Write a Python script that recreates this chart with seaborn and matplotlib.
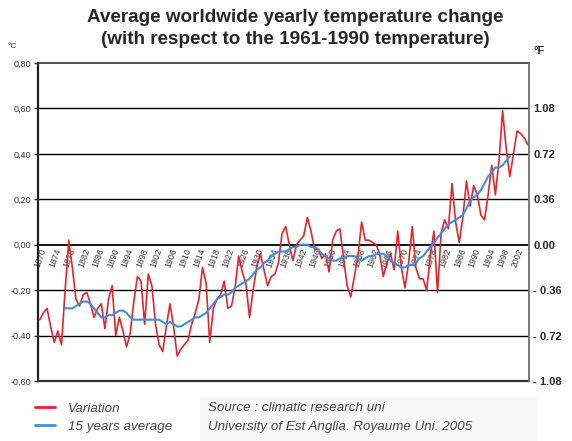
import matplotlib
matplotlib.use("Agg")
import matplotlib.pyplot as plt
import matplotlib.ticker as mticker
from matplotlib.lines import Line2D
from matplotlib.patches import Rectangle
import seaborn as sns
import pandas as pd
import numpy as np

# ---------------- data ----------------
years = list(range(1870, 2006))
variation = [
    -0.33, -0.30, -0.28, -0.36, -0.43, -0.38, -0.44, -0.20, 0.02, -0.10,   # 1870-1879
    -0.24, -0.27, -0.22, -0.21, -0.26, -0.32, -0.28, -0.26, -0.37, -0.24,  # 1880-1889
    -0.18, -0.40, -0.32, -0.38, -0.45, -0.39, -0.25, -0.14, -0.16, -0.35,  # 1890-1899
    -0.13, -0.18, -0.35, -0.44, -0.47, -0.36, -0.26, -0.36, -0.49, -0.46,  # 1900-1909
    -0.44, -0.42, -0.35, -0.30, -0.24, -0.10, -0.17, -0.43, -0.28, -0.24,  # 1910-1919
    -0.22, -0.16, -0.28, -0.27, -0.19, -0.05, -0.12, -0.17, -0.32, -0.20,  # 1920-1929
    -0.10, -0.04, -0.11, -0.18, -0.14, -0.13, -0.08, 0.05, 0.08, 0.00,     # 1930-1939
    -0.07, 0.00, 0.02, 0.04, 0.12, 0.06, -0.02, -0.02, -0.06, -0.04,       # 1940-1949
    -0.12, 0.02, 0.06, 0.07, -0.06, -0.18, -0.23, -0.14, -0.05, 0.10,      # 1950-1959
    0.02, 0.02, 0.01, 0.00, -0.04, -0.14, -0.08, -0.04, -0.11, 0.06,       # 1960-1969
    -0.10, -0.19, -0.08, 0.08, -0.10, -0.15, -0.15, -0.20, -0.05, 0.06,    # 1970-1979
    -0.21, 0.05, 0.11, 0.07, 0.27, 0.10, 0.01, 0.12, 0.28, 0.17,           # 1980-1989
    0.26, 0.22, 0.13, 0.11, 0.22, 0.35, 0.22, 0.37, 0.59, 0.42,            # 1990-1999
    0.30, 0.40, 0.50, 0.49, 0.47, 0.44,                                    # 2000-2005
]

avg_years = list(range(1877, 2001))
average15 = [
    -0.28, -0.28, -0.28,                                                   # 1877-1879
    -0.27, -0.26, -0.25, -0.25, -0.26, -0.28, -0.30, -0.32, -0.32, -0.31,  # 1880-1889
    -0.31, -0.30, -0.29, -0.29, -0.30, -0.32, -0.33, -0.33, -0.33, -0.33,  # 1890-1899
    -0.33, -0.33, -0.33, -0.33, -0.34, -0.35, -0.34, -0.35, -0.36, -0.36,  # 1900-1909
    -0.35, -0.34, -0.33, -0.32, -0.32, -0.31, -0.30, -0.28, -0.26, -0.24,  # 1910-1919
    -0.23, -0.22, -0.22, -0.21, -0.19, -0.18, -0.17, -0.16, -0.15, -0.13,  # 1920-1929
    -0.11, -0.10, -0.08, -0.07, -0.05, -0.04, -0.03, -0.03, -0.03, -0.02,  # 1930-1939
    -0.01, -0.01, 0.00, 0.00, 0.00, -0.01, -0.01, -0.02, -0.04, -0.05,     # 1940-1949
    -0.06, -0.07, -0.07, -0.06, -0.06, -0.05, -0.05, -0.05, -0.06, -0.07,  # 1950-1959
    -0.06, -0.05, -0.05, -0.04, -0.04, -0.04, -0.05, -0.07, -0.08, -0.09,  # 1960-1969
    -0.10, -0.10, -0.09, -0.09, -0.08, -0.06, -0.05, -0.03, -0.01, 0.01,   # 1970-1979
    0.03, 0.05, 0.07, 0.09, 0.10, 0.11, 0.12, 0.13, 0.16, 0.19,            # 1980-1989
    0.21, 0.22, 0.24, 0.27, 0.30, 0.32, 0.34, 0.34, 0.35, 0.37,            # 1990-1999
    0.39,                                                                  # 2000
]

x_tick_years = list(range(1870, 2003, 4))
left_ticks = [0.8, 0.6, 0.4, 0.2, 0.0, -0.2, -0.4, -0.6]
right_ticks = [1.08, 0.72, 0.36, 0.0, -0.36, -0.72, -1.08]
right_labels = ["1.08", "0.72", "0.36", "0.00", "- 0.36", "- 0.72", "- 1.08"]

title_lines = ["Average worldwide yearly temperature change",
               "(with respect to the 1961-1990 temperature)"]
legend_labels = ["Variation", "15 years average"]
source_lines = ["Source : climatic research uni",
                "University of Est Anglia. Royaume Uni. 2005"]

RED = "#e8232b"
BLUE = "#3d8fe0"

# ---------------- figure ----------------
sns.set_style("white")
plt.rcParams['font.family'] = ['Liberation Sans', 'DejaVu Sans']

fig = plt.figure(figsize=(5.72, 4.41), dpi=100)
ax = fig.add_axes([38/572, 1-381/441, (529-38)/572, (381-63)/441])

df_var = pd.DataFrame({"year": years, "value": variation})
df_avg = pd.DataFrame({"year": avg_years, "value": average15})
sns.lineplot(data=df_var, x="year", y="value", ax=ax, color=RED, lw=1.2, zorder=4)
sns.lineplot(data=df_avg, x="year", y="value", ax=ax, color=BLUE, lw=1.5, zorder=5)

ax.set_xlim(1869.5, 2005.3)
ax.set_ylim(-0.6, 0.8)
ax.set_xlabel("")
ax.set_ylabel("")

# horizontal grid lines
for v in [0.6, 0.4, 0.2, -0.2, -0.4]:
    ax.axhline(v, color="black", lw=1.0, zorder=1)
ax.axhline(-0.6, color="#333333", lw=1.6, zorder=6, clip_on=False)

# spines
ax.spines['top'].set_color("#333333")
ax.spines['top'].set_linewidth(1.2)
ax.spines['left'].set_color("#222222")
ax.spines['left'].set_linewidth(1.6)
ax.spines['right'].set_color("#777777")
ax.spines['right'].set_linewidth(1.2)
ax.spines['bottom'].set_position(('data', 0))
ax.spines['bottom'].set_linestyle((0, (1, 1)))
ax.spines['bottom'].set_linewidth(1.3)
ax.spines['bottom'].set_color("black")
ax.spines['bottom'].set_zorder(3)

# left ticks
ax.set_yticks(left_ticks)
ax.yaxis.set_major_formatter(mticker.FuncFormatter(lambda v, p: f"{v:.2f}".replace(".", ",")))
ax.tick_params(axis='y', which='major', left=True, length=3, width=1, color="#333333",
               labelsize=6.5, labelcolor="#333333", pad=2)

# x ticks on the zero line
ax.set_xticks(x_tick_years)
ax.set_xticklabels([str(y) for y in x_tick_years], rotation=70, ha='right',
                   rotation_mode='anchor', fontsize=6.3, color="#3a3a3a")
ax.tick_params(axis='x', length=0, pad=2)

# right axis in Fahrenheit
ax2 = ax.twinx()
ax2.set_ylim(-0.6 * 1.8, 0.8 * 1.8)
ax2.set_yticks(right_ticks)
ax2.set_yticklabels(right_labels, fontsize=8, fontweight='bold')
ax2.tick_params(axis='y', length=0, pad=3)
for s in ['top', 'left', 'bottom']:
    ax2.spines[s].set_visible(False)
ax2.spines['right'].set_color("#777777")
ax2.spines['right'].set_linewidth(1.2)
ax2.grid(False)

# units
fig.text(8/572, 1-47/441, "°C", fontsize=6, color="#333333", va='center')
fig.text(534/572, 1-51/441, "°F", fontsize=8, fontweight='bold', va='center')

# title
fig.text(295/572, 1-18/441, title_lines[0], ha='center', va='center', fontsize=13.6, fontweight='bold')
fig.text(295/572, 1-40/441, title_lines[1], ha='center', va='center', fontsize=13.6, fontweight='bold')

# source box and text
fig.patches.append(Rectangle((200/572, 0), (537-200)/572, 44/441, transform=fig.transFigure,
                             facecolor="#f8f8f8", edgecolor='none', zorder=0))
fig.text(208/572, 1-408/441, source_lines[0], fontsize=9.6, fontstyle='italic', color="#444444", va='center')
fig.text(208/572, 1-427/441, source_lines[1], fontsize=9.6, fontstyle='italic', color="#444444", va='center')

# legend
handles = [Line2D([0], [0], color=RED, lw=2), Line2D([0], [0], color=BLUE, lw=2)]
fig.legend(handles, legend_labels, loc='center left', bbox_to_anchor=(35/572, 1-417.5/441),
           frameon=False, handlelength=1.5, handletextpad=1.0, labelspacing=0.45,
           borderpad=0, borderaxespad=0,
           prop={'style': 'italic', 'size': 9.6}, labelcolor="#444444")

fig.savefig("out.png", dpi=100)
